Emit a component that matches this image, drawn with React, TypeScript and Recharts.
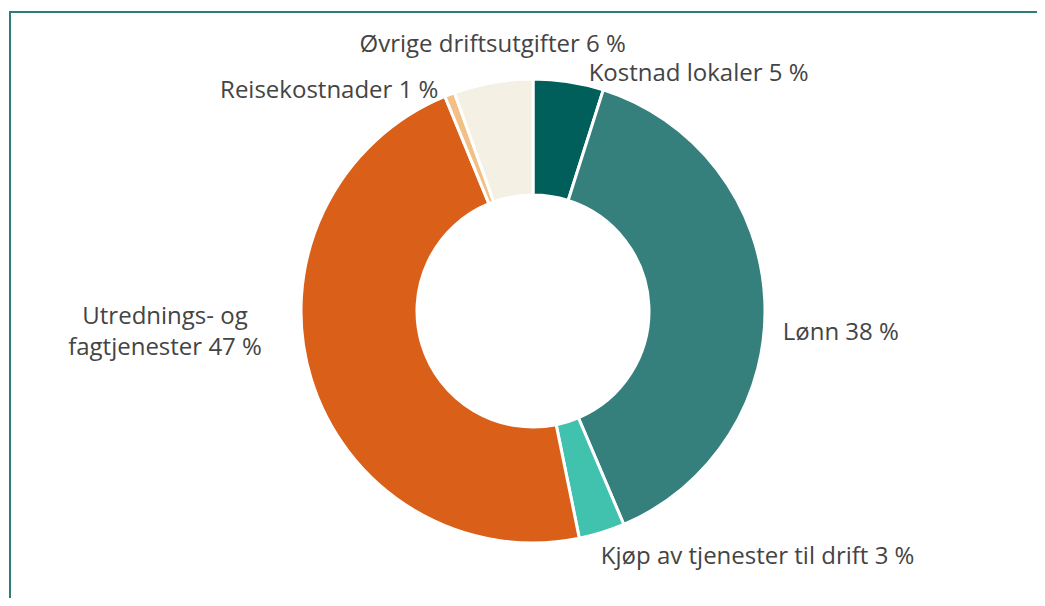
import { PieChart, Pie, Cell } from 'recharts';

// Cost categories, clockwise from 12 o'clock
const categories = [
  'Kostnad lokaler',
  'Lønn',
  'Kjøp av tjenester til drift',
  'Utrednings- og fagtjenester',
  'Reisekostnader',
  'Øvrige driftsutgifter',
];
// share of total
const shares = [4.9, 38.7, 3.2, 47.0, 0.7, 5.5];
// rounded percentages shown in labels
const shownPct = [5, 38, 3, 47, 1, 6];
const sliceColors = ['#005F5A', '#357F7C', '#41C2AE', '#DA5F19', '#F2C084', '#F4F0E4'];

const data = categories.map((name, i) => ({ name, value: shares[i], pct: shownPct[i] }));

const FONT = '"Open Sans", sans-serif';
const FONT_SIZE = 24;
const LINE_H = 31;
const BOX_LEFT = 10;
const BOX_RIGHT = 1036;

let ctx: CanvasRenderingContext2D | null = null;
function textWidth(s: string) {
  if (!ctx) ctx = document.createElement('canvas').getContext('2d');
  if (!ctx) return s.length * FONT_SIZE * 0.55;
  ctx.font = `${FONT_SIZE}px ${FONT}`;
  return ctx.measureText(s).width;
}

function wrap(text: string, maxW: number) {
  const words = text.split(' ');
  const lines: string[] = [];
  let cur = '';
  for (const w of words) {
    const next = cur ? `${cur} ${w}` : w;
    if (cur && textWidth(next) > maxW) {
      lines.push(cur);
      cur = w;
    } else {
      cur = next;
    }
  }
  if (cur) lines.push(cur);
  return lines;
}

// hand tweaks so each label sits where the original layout put it
const labelTweaks: { dx: number; dy: number; anchor: 'start' | 'end' | 'middle' }[] = [
  { dx: 17, dy: 9, anchor: 'start' },
  { dx: -2, dy: 30, anchor: 'start' },
  { dx: -7, dy: 2, anchor: 'start' },
  { dx: -30, dy: -55, anchor: 'end' },
  { dx: -4, dy: 12, anchor: 'end' },
  { dx: 3, dy: -21, anchor: 'middle' },
];

const renderLabel = (props: any) => {
  const { cx, cy, midAngle, outerRadius, index, name } = props;
  const RAD = Math.PI / 180;
  const r = outerRadius + 20;
  const t = labelTweaks[index];
  const x = cx + r * Math.cos(-midAngle * RAD) + t.dx;
  const y = cy + r * Math.sin(-midAngle * RAD) + t.dy;
  const text = `${name} ${shownPct[index]} %`;
  const avail = t.anchor === 'end' ? x - BOX_LEFT - 20 : t.anchor === 'start' ? BOX_RIGHT - x : 1000;
  const lines = wrap(text, avail);
  const blockW = Math.max(...lines.map(textWidth));
  let tx = x;
  let anchor = t.anchor;
  if (lines.length > 1) {
    anchor = 'middle';
    if (t.anchor === 'end') tx = x - blockW / 2;
    if (t.anchor === 'start') tx = x + blockW / 2;
  }
  const firstBaseline = y - ((lines.length - 1) * LINE_H) / 2 + 10.5;
  return (
    <text
      key={`lbl-${index}`}
      x={tx}
      y={firstBaseline}
      textAnchor={anchor}
      fill="#444444"
      fontFamily={FONT}
      fontSize={FONT_SIZE}
    >
      {lines.map((l, i) => (
        <tspan key={i} x={tx} dy={i === 0 ? 0 : LINE_H}>
          {l}
        </tspan>
      ))}
    </text>
  );
};

export default function App() {
  return (
    <div
      style={{
        position: 'relative',
        width: 1045,
        height: 606,
        margin: -8,
        background: '#ffffff',
        overflow: 'hidden',
        fontFamily: FONT,
      }}
    >
      <div
        style={{
          position: 'absolute',
          left: 9,
          top: 11,
          right: -10,
          bottom: -10,
          borderTop: '2px solid #2E7D78',
          borderLeft: '2px solid #2E7D78',
        }}
      />
      <div style={{ position: 'absolute', left: 0, top: 0 }}>
        <PieChart width={1045} height={606} margin={{ top: 0, right: 0, bottom: 0, left: 0 }}>
          <Pie
            data={data}
            dataKey="value"
            nameKey="name"
            cx={533}
            cy={311}
            innerRadius={116}
            outerRadius={232}
            startAngle={90}
            endAngle={-270}
            stroke="#ffffff"
            strokeWidth={3}
            label={renderLabel}
            labelLine={false}
            isAnimationActive={false}
          >
            {data.map((d, i) => (
              <Cell key={d.name} fill={sliceColors[i]} />
            ))}
          </Pie>
        </PieChart>
      </div>
    </div>
  );
}
